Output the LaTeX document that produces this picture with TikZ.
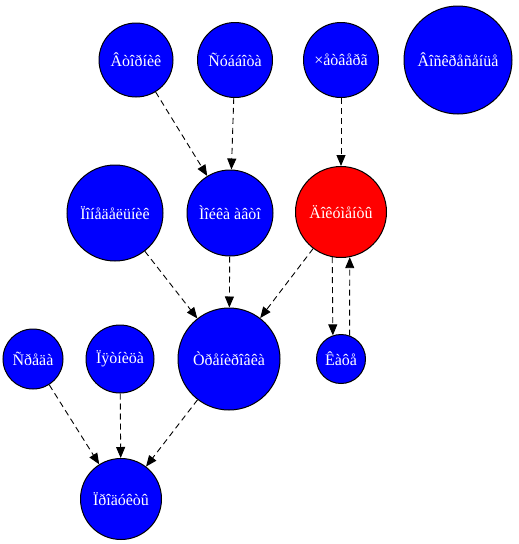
\documentclass[tikz,border=0pt]{standalone}
\usepackage{fontspec}
\setmainfont{Liberation Serif}
\usetikzlibrary{arrows.meta}
\tikzset{
  day/.style={circle, draw=black, line width=1pt, fill=blue, text=white,
    inner sep=0pt, font=\fontsize{16}{18}\selectfont},
  hot/.style={day, fill=red}
}
\begin{document}
\begin{tikzpicture}[x=1pt,y=-1pt]
      \useasboundingbox (0,0) rectangle (519,544);
      \draw
        (136,60) node[day, minimum size=74pt] (vt){Âòîðíèê}
        (235,60) node[day, minimum size=75pt] (sb){Ñóááîòà}
        (341,60) node[day, minimum size=75pt] (cht){×åòâåðã}
        (458,60) node[day, minimum size=108pt] (vs){Âîñêðåñåíüå}
        (115,213) node[day, minimum size=96pt] (pn){Ïîíåäåëüíèê}
        (230,213) node[day, minimum size=86pt] (mojka){Ìîéêà àâòî}
        (341,212) node[hot, minimum size=91pt] (dok){Äîêóìåíòû}
        (33,359) node[day, minimum size=60pt] (sr){Ñðåäà}
        (120,359) node[day, minimum size=68pt] (pt){Ïÿòíèöà}
        (229,359) node[day, minimum size=102pt] (trn){Òðåíèðîâêà}
        (341,359) node[day, minimum size=49pt] (kafe){Êàôå}
        (121,499) node[day, minimum size=81pt] (prod){Ïðîäóêòû};
      \begin{scope}[-{Triangle[length=11pt,width=9pt]}, line width=0.9pt,
          dash pattern=on 6pt off 4pt]
        \draw (vt) to (mojka);
        \draw (sb) to (mojka);
        \draw (cht) to (dok);
        \draw (pn) to (trn);
        \draw (mojka) to (trn);
        \draw (dok) to (trn);
        \draw (dok.259) to (kafe.109);
        \draw (kafe.70) to (dok.281);
        \draw (sr) to (prod);
        \draw (pt) to (prod);
        \draw (trn) to (prod);
      \end{scope}
    \end{tikzpicture}
\end{document}
